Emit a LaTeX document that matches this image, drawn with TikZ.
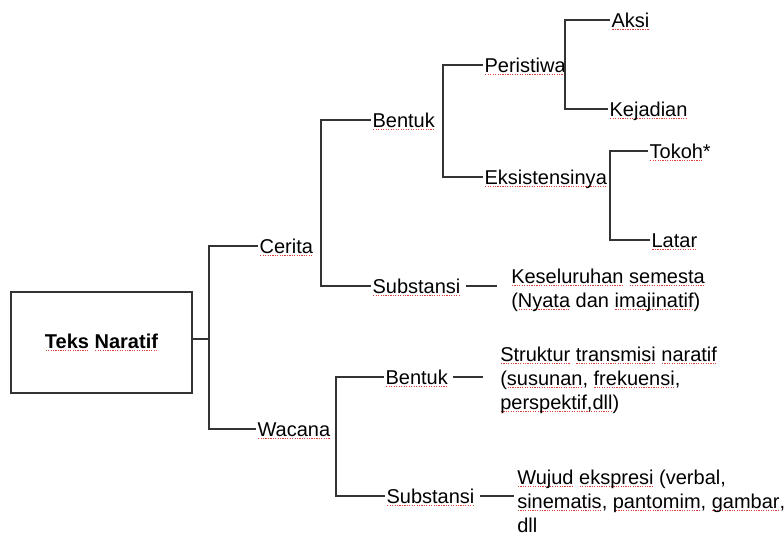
\documentclass[tikz,border=0pt]{standalone}
\usepackage{fontspec}
\setmainfont{Liberation Sans}
\usepackage{xcolor}
\definecolor{spell}{HTML}{E0403A}
\definecolor{ln}{HTML}{333333}
\newsavebox\sqbox
\newcommand\sq[1]{\leavevmode\sbox\sqbox{#1}\rlap{\textcolor{spell}{\hbox to \wd\sqbox{\xleaders\hbox to 1.8pt{\hss\rule[-2.6pt]{0.9pt}{0.8pt}\hss}\hfill}}}\usebox\sqbox}
\begin{document}
\begin{tikzpicture}[x=0.75pt,y=-0.75pt,
  font=\fontsize{15}{18}\selectfont,
  lbl/.style={anchor=base west,inner xsep=1pt,inner ysep=0pt,text height=10.5pt,text depth=0pt},
  multi/.style={anchor=base west,align=left,inner sep=0pt},
  link/.style={draw=ln,line width=1.1pt},
  rootbox/.style={draw=ln,line width=1.1pt,minimum width=135.75pt,minimum height=75.75pt,inner sep=0pt,font=\fontsize{15}{18}\selectfont\bfseries}]
\useasboundingbox (0,0) rectangle (784,536);

% root
\node[rootbox] (root) at (101.5,342.5) {\sq{Teks} \sq{Naratif}};

% level 1
\node[lbl] (cerita) at (258,253) {\sq{Cerita}};
\node[lbl] (wacana) at (256,436) {\sq{Wacana}};

% level 2 (cerita)
\node[lbl] (bentukA) at (371,127) {\sq{Bentuk}};
\node[lbl] (substA) at (371,293) {\sq{Substansi}};
% level 2 (wacana)
\node[lbl] (bentukB) at (384,384) {\sq{Bentuk}};
\node[lbl] (substB) at (385,503) {\sq{Substansi}};

% level 3
\node[lbl] (peristiwa) at (483,72) {\sq{Peristiwa}};
\node[lbl] (eksis) at (483,184) {\sq{Eksistensinya}};

% level 4
\node[lbl] (aksi) at (610,27) {\sq{Aksi}};
\node[lbl] (kejadian) at (608,116) {\sq{Kejadian}};
\node[lbl] (tokoh) at (648,158) {\sq{Tokoh}*};
\node[lbl] (latar) at (650,247) {\sq{Latar}};

% descriptions (anchored at the baseline of their last line)
\node[multi] (kes) at (511,307) {\sq{Keseluruhan} \sq{semesta}\\(\sq{Nyata} dan \sq{imajinatif})};
\node[multi] (struk) at (500,409) {\sq{Struktur} \sq{transmisi} \sq{naratif}\\(\sq{susunan}, \sq{frekuensi},\\\sq{perspektif,dll})};
\node[multi] (wujud) at (517,532) {\sq{Wujud} \sq{ekspresi} (verbal,\\\sq{sinematis}, \sq{pantomim}, \sq{gambar},\\dll};

% junctions
\coordinate (j0) at (209,339);
\coordinate (j1) at (321,246);
\coordinate (j2) at (443,120);
\coordinate (j3) at (565,65);
\coordinate (j4) at (610,177);
\coordinate (j5) at (336,429);
\coordinate (e1) at (497,286);
\coordinate (e2) at (483,377);
\coordinate (e3) at (514,496);

\draw[link] (root.east |- j0) -- (j0);
\draw[link] (cerita.west) -| (j0) |- (wacana.west);
\draw[link] (bentukA.west) -| (j1) |- (substA.west);
\draw[link] (peristiwa.west) -| (j2) |- (eksis.west);
\draw[link] (aksi.west) -| (j3) |- (kejadian.west);
\draw[link] (tokoh.west) -| (j4) |- (latar.west);
\draw[link] (bentukB.west) -| (j5) |- (substB.west);

\draw[link] ([xshift=3pt]substA.east) -- (e1);
\draw[link] ([xshift=3pt]bentukB.east) -- (e2);
\draw[link] ([xshift=3pt]substB.east) -- (e3);
\end{tikzpicture}
\end{document}
